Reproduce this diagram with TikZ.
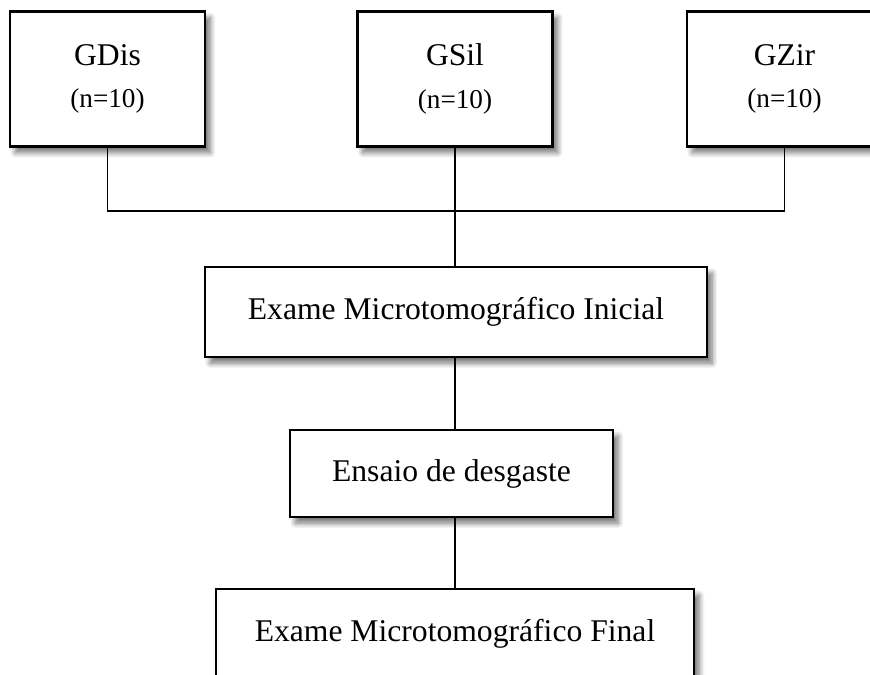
\documentclass[tikz,border=0pt]{standalone}
\usepackage{fontspec}
\setmainfont{Liberation Serif}
\usetikzlibrary{shadows.blur}
\tikzset{
  caixa/.style={draw,line width=1.3pt,fill=white,align=center,inner sep=0pt,
    blur shadow={shadow xshift=3pt,shadow yshift=-3.5pt,shadow blur steps=10,shadow blur radius=3pt,shadow opacity=55},
    font=\fontsize{18}{19}\selectfont},
  liga/.style={line width=0.6pt}
}
\begin{document}
\begin{tikzpicture}[x=0.02cm,y=-0.02cm]
			\useasboundingbox (0,0) rectangle (870,675);
			\clip (0,0) rectangle (870,675);
			% grupos
			\node[caixa,minimum width=3.9cm,minimum height=2.7cm] (gdis) at (107.5,79) {GDis\\[5pt]{\fontsize{15.5}{17}\selectfont (n=10)}};
			\node[caixa,minimum width=3.9cm,minimum height=2.7cm] (gsil) at (455,79) {GSil\\[5pt]{\fontsize{15.5}{17}\selectfont (n=10)}};
			\node[caixa,minimum width=3.9cm,minimum height=2.7cm] (gzir) at (784.5,79) {GZir\\[5pt]{\fontsize{15.5}{17}\selectfont (n=10)}};
			\coordinate (juncao) at (455,211);
			% etapas
			\node[caixa,minimum width=10.04cm,minimum height=1.8cm] (inicial) at (456,312) {Exame Microtomográfico Inicial};
			\node[caixa,minimum width=6.46cm,minimum height=1.74cm] (ensaio) at (451.5,473.5) {Ensaio de desgaste};
			\node[caixa,minimum width=9.56cm,minimum height=1.8cm] (final) at (455,634) {Exame Microtomográfico Final};
			% ligacoes
			\draw[liga] (gdis.south) |- (juncao) -| (gzir.south);
			\draw[liga] (gsil.south) -- (gsil.south|-inicial.north);
			\draw[liga] (gsil.south|-inicial.south) -- (gsil.south|-ensaio.north);
			\draw[liga] (gsil.south|-ensaio.south) -- (gsil.south|-final.north);
		\end{tikzpicture}
\end{document}
